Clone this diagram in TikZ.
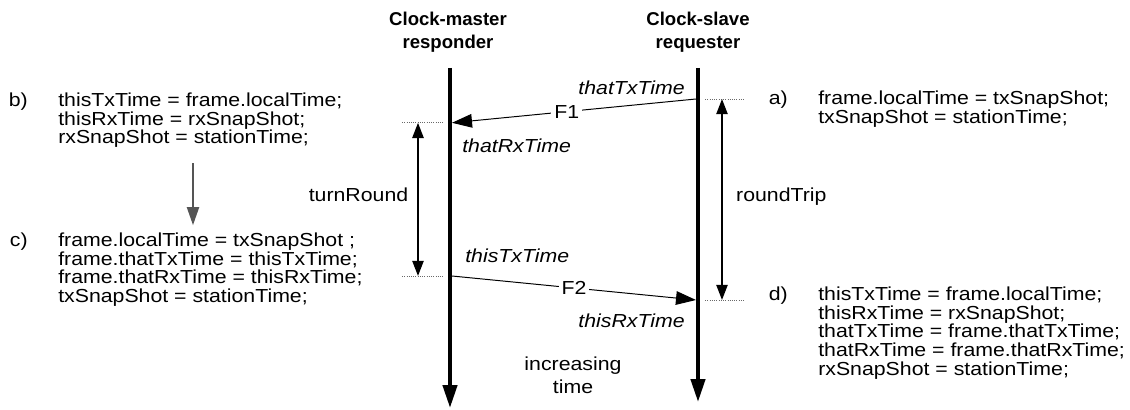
\documentclass[tikz,border=0pt]{standalone}
\usepackage{fontspec}
\setmainfont{Liberation Sans}
\newfontfamily\diafont[FakeStretch=1.13]{Liberation Sans}
\usepackage{xcolor}
\usepackage{tikz}
\usetikzlibrary{arrows.meta,positioning}
\definecolor{sqblack}{RGB}{0,0,0}
\definecolor{sqgray}{RGB}{85,85,85}
\definecolor{sqdot}{RGB}{105,105,105}
\tikzset{
  head/.style={font=\fontsize{13.2}{16.3}\selectfont\bfseries,align=center,inner sep=0pt},
  code/.style={font=\fontsize{13.4}{13.34}\diafont,align=left,inner sep=0pt},
  tag/.style={font=\fontsize{13.4}{13.34}\diafont,inner sep=0pt},
  stamp/.style={font=\fontsize{13.4}{13.34}\diafont\itshape,inner sep=0pt},
  lifeline/.style={-{Triangle[length=5.7mm,width=3.5mm]},line width=2.8pt,draw=sqblack},
  msg/.style={-{Triangle[length=5mm,width=3.4mm]},line width=0.7pt,draw=sqblack},
  interval/.style={{Triangle[length=3.8mm,width=2.8mm]}-{Triangle[length=3.8mm,width=2.8mm]},line width=1.4pt,draw=sqblack},
  guide/.style={densely dotted,line width=0.6pt,draw=sqdot},
  flow/.style={-{Triangle[length=4.5mm,width=3mm]},line width=1.4pt,draw=sqgray},
}
\begin{document}
\begin{tikzpicture}[x=1cm,y=1cm]
  \useasboundingbox (0,0) rectangle (28.25,-10.25);

  \node[head,anchor=north] (mhead) at (11.2,-0.3) {Clock-master\\responder};
  \node[head,anchor=north] (shead) at (17.45,-0.3) {Clock-slave\\requester};
  \coordinate (mtop) at (11.25,-1.7);
  \coordinate (mbot) at (11.25,-10.2);
  \coordinate (stop) at (17.45,-1.7);
  \coordinate (sbot) at (17.45,-10.05);
  \draw[lifeline] (mtop) -- (mbot);
  \draw[lifeline] (stop) -- (sbot);

  \coordinate (stx) at (17.4,-2.475);
  \coordinate (mrx) at (11.3,-3.07);
  \coordinate (mtx) at (11.3,-6.9);
  \coordinate (srx) at (17.4,-7.5);
  \draw[msg] (stx) -- node[tag,fill=white,inner sep=2pt,pos=0.53] (f1) {F1} (mrx);
  \draw[msg] (mtx) -- node[tag,fill=white,inner sep=2pt,pos=0.5] (f2) {F2} (srx);

  \node[stamp,anchor=base east] (thattx) at (17.125,-2.375) {thatTxTime};
  \node[stamp,anchor=base west] (thatrx) at (11.55,-3.8) {thatRxTime};
  \node[stamp,anchor=base west] (thistx) at (11.625,-6.55) {thisTxTime};
  \node[stamp,anchor=base east] (thisrx) at (17.125,-8.175) {thisRxTime};

  \draw[guide] ([xshift=-1.25cm]mrx) -- ([xshift=-0.225cm]mrx);
  \draw[guide] ([xshift=-1.25cm]mtx) -- ([xshift=-0.225cm]mtx);
  \draw[guide] ([xshift=0.225cm]stx) -- ([xshift=1.225cm]stx);
  \draw[guide] ([xshift=0.225cm]srx) -- ([xshift=1.225cm]srx);

  \coordinate (tr1) at (10.45,-3.07);
  \coordinate (tr2) at (10.45,-6.9);
  \coordinate (rt1) at (18.05,-2.475);
  \coordinate (rt2) at (18.05,-7.5);
  \draw[interval] (tr1) -- node[tag,midway,anchor=base east,xshift=-0.22cm,yshift=-0.05cm] (turn) {turnRound} (tr2);
  \draw[interval] (rt1) -- node[tag,midway,anchor=base west,xshift=0.33cm,yshift=-0.05cm] (trip) {roundTrip} (rt2);

  \node[tag,align=center,font=\fontsize{13.4}{16.3}\diafont,anchor=north] (incr) at (14.325,-8.92) {increasing\\time};

  \node[code,anchor=north west] (tb) at (1.45,-2.31) {thisTxTime = frame.localTime;\\thisRxTime = rxSnapShot;\\rxSnapShot = stationTime;};
  \node[tag,left=0.75cm of tb.north west,anchor=north east] (lb) {b)};
  \node[code,anchor=north west] (tc) at (1.45,-5.81) {frame.localTime = txSnapShot ;\\frame.thatTxTime = thisTxTime;\\frame.thatRxTime = thisRxTime;\\txSnapShot = stationTime;};
  \node[tag,left=0.75cm of tc.north west,anchor=north east] (lc) {c)};
  \coordinate (gx) at (4.825,0);
  \draw[flow,shorten <=0.375cm,shorten >=0.18cm] (tb.south -| gx) -- (tc.north -| gx);

  \node[code,anchor=north west] (ta) at (20.45,-2.26) {frame.localTime = txSnapShot;\\txSnapShot = stationTime;};
  \node[tag,left=0.75cm of ta.north west,anchor=north east] (la) {a)};
  \node[code,anchor=north west] (td) at (20.45,-7.16) {thisTxTime = frame.localTime;\\thisRxTime = rxSnapShot;\\thatTxTime = frame.thatTxTime;\\thatRxTime = frame.thatRxTime;\\rxSnapShot = stationTime;};
  \node[tag,left=0.75cm of td.north west,anchor=north east] (ld) {d)};
\end{tikzpicture}
\end{document}
